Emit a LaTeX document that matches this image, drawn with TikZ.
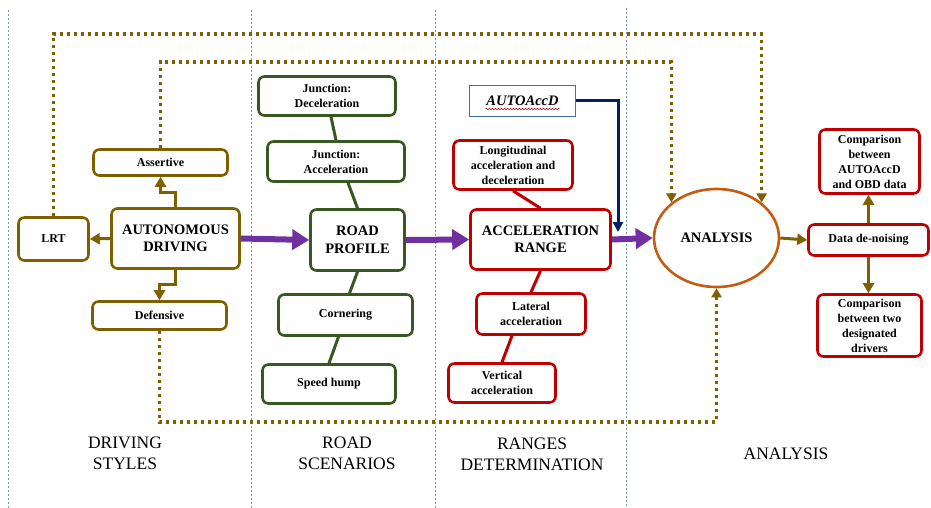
\documentclass[tikz,border=0pt]{standalone}
\usepackage{fontspec}
\setmainfont{Liberation Serif}
\usepackage{tikz}
\usetikzlibrary{shapes,arrows.meta,positioning,decorations.pathmorphing}

\definecolor{goldline}{HTML}{7F6000}
\definecolor{greenline}{HTML}{385723}
\definecolor{redline}{HTML}{C00000}
\definecolor{purpleline}{HTML}{7030A0}
\definecolor{navyline}{HTML}{002060}
\definecolor{orangeline}{HTML}{C55A11}
\definecolor{steelline}{HTML}{41719C}
\definecolor{sepline}{HTML}{8497B0}

\newcommand{\smallbox}{\fontsize{12}{15}\selectfont}
\newcommand{\bigbox}{\fontsize{14.5}{17.5}\selectfont}
\newcommand{\colhead}{\fontsize{17.5}{21}\selectfont}

\begin{document}
\begin{tikzpicture}[x=1pt, y=-1pt,
        box/.style={rectangle, rounded corners=6pt, line width=2.6pt, fill=white, align=center, inner sep=2pt, font=\bfseries\smallbox},
        goldbox/.style={box, draw=goldline},
        greenbox/.style={box, draw=greenline},
        redbox/.style={box, draw=redline},
        bigtext/.style={font=\bfseries\bigbox},
        flow/.style={-{Triangle[length=17pt,width=20pt]}, line width=6pt, purpleline},
        branch/.style={-{Triangle[length=10pt,width=11pt]}, line width=3pt, goldline},
        loop/.style={-{Triangle[length=9pt,width=10pt]}, line width=3.2pt, goldline, dash pattern=on 3pt off 4pt},
        navyarrow/.style={-{Triangle[length=10pt,width=10pt]}, line width=3pt, navyline},
        link/.style={line width=3pt},
        sep/.style={sepline, line width=0.7pt, dash pattern=on 2pt off 2pt},
        column/.style={font=\colhead, align=center}
    ]
    \useasboundingbox (0,0) rectangle (931,508);

    % Column separators
    \draw[sep] (8,10) -- (8,508);
    \draw[sep] (251,10) -- (251,508);
    \draw[sep] (435,10) -- (435,508);
    \draw[sep] (626,8) -- (626,508);

    % Driving styles
    \node[goldbox, minimum width=70pt, minimum height=43pt] (lrt) at (53.5,239) {LRT};
    \node[goldbox, bigtext, minimum width=128pt, minimum height=60pt] (auto) at (175.5,238.5) {AUTONOMOUS\\DRIVING};
    \node[goldbox, minimum width=134pt, minimum height=26pt] (assertive) at (160.5,162.5) {Assertive};
    \node[goldbox, minimum width=134pt, minimum height=28pt] (defensive) at (159.5,315.5) {Defensive};

    % Road scenarios
    \node[greenbox, minimum width=137pt, minimum height=39pt] (jdec) at (327,96) {Junction:\\Deceleration};
    \node[greenbox, minimum width=137pt, minimum height=40pt] (jacc) at (336,161.5) {Junction:\\Acceleration};
    \node[greenbox, bigtext, minimum width=94pt, minimum height=61pt] (road) at (357.5,240) {ROAD\\PROFILE};
    \node[greenbox, minimum width=134pt, minimum height=41pt] (corner) at (345.5,315) {Cornering};
    \node[greenbox, minimum width=133pt, minimum height=39pt] (hump) at (329,384) {Speed hump};

    % Ranges determination
    \node[rectangle, draw=steelline, line width=1pt, fill=white, font=\bfseries\itshape\bigbox, minimum width=106pt, minimum height=31pt] (autoaccd) at (522.5,101) {AUTOAccD};
    \draw[redline, line width=0.5pt, decorate, decoration={snake, amplitude=0.7pt, segment length=3pt}] ([xshift=-37pt,yshift=-8pt]autoaccd.center) -- ([xshift=37pt,yshift=-8pt]autoaccd.center);
    \node[redbox, minimum width=119pt, minimum height=49pt] (longi) at (513,165) {Longitudinal\\acceleration and\\deceleration};
    \node[redbox, bigtext, minimum width=140pt, minimum height=60pt] (accel) at (540.5,239.5) {ACCELERATION\\RANGE};
    \node[redbox, minimum width=109pt, minimum height=41pt] (lateral) at (531,314) {Lateral\\acceleration};
    \node[redbox, minimum width=107pt, minimum height=39pt] (vertical) at (502,383) {Vertical\\acceleration};

    % Analysis
    \node[ellipse, draw=orangeline, line width=2.6pt, fill=white, inner sep=0pt, font=\bfseries\bigbox, minimum width=125pt, minimum height=98pt] (analysis) at (716.5,238) {ANALYSIS};
    \node[redbox, minimum width=120pt, minimum height=31pt] (denoise) at (868.5,240) {Data de-noising};
    \node[redbox, minimum width=100pt, minimum height=64pt] (compa) at (869.5,161.5) {Comparison\\between\\AUTOAccD\\and OBD data};
    \node[redbox, minimum width=104pt, minimum height=62pt] (compb) at (869.5,325.5) {Comparison\\between two\\designated\\drivers};

    % Loop coordinates
    \coordinate (outertop) at (0,34);
    \coordinate (innertop) at (0,62);
    \coordinate (loopbot) at (0,422);
    \coordinate (navyend) at (618,232);

    % Dotted feedback loops into the analysis
    \draw[loop] (lrt.north) -- (lrt.north |- outertop) -| (analysis.north east);
    \draw[loop] (assertive.north) -- (assertive.north |- innertop) -| (analysis.north west);
    \draw[loop] (defensive.south) -- (defensive.south |- loopbot) -| (analysis.south);

    % Driving style branches
    \draw[branch] (auto.west) -- (lrt.east);
    \draw[branch] (auto.north) -- ++(0,-15) -| (assertive.south);
    \draw[branch] (auto.south) -- ++(0,15) -| (defensive.north);

    % Road scenario links
    \draw[link, greenline] ([xshift=4pt]jdec.south) -- (jacc.north);
    \draw[link, greenline] ([xshift=12pt]jacc.south) -- (road.north);
    \draw[link, greenline] (road.south) -- ([xshift=4pt]corner.north);
    \draw[link, greenline] ([xshift=-7pt]corner.south) -- (hump.north);

    % Acceleration range links
    \draw[link, redline] (longi.south) -- (accel.north);
    \draw[link, redline] (accel.south) -- (lateral.north);
    \draw[link, redline] ([xshift=-19pt]lateral.south) -- (vertical.north);

    % Main flow
    \draw[flow] (auto.east) -- (road.west);
    \draw[flow] (road.east) -- (accel.west);
    \draw[flow] (accel.east) -- (analysis.west);
    \draw[navyarrow] (autoaccd.east) -| (navyend);

    % Analysis outputs
    \draw[branch] (analysis.east) -- (denoise.west);
    \draw[branch] (denoise.north) -- (denoise.north |- compa.south);
    \draw[branch] (denoise.south) -- (denoise.south |- compb.north);

    % Column headings
    \node[column] (styles) at (125,453) {DRIVING\\STYLES};
    \node[column] (scenarios) at (347,453) {ROAD\\SCENARIOS};
    \node[column] (ranges) at (532,454) {RANGES\\DETERMINATION};
    \node[column] (analysishead) at (786,454) {ANALYSIS};

\end{tikzpicture}
\end{document}
